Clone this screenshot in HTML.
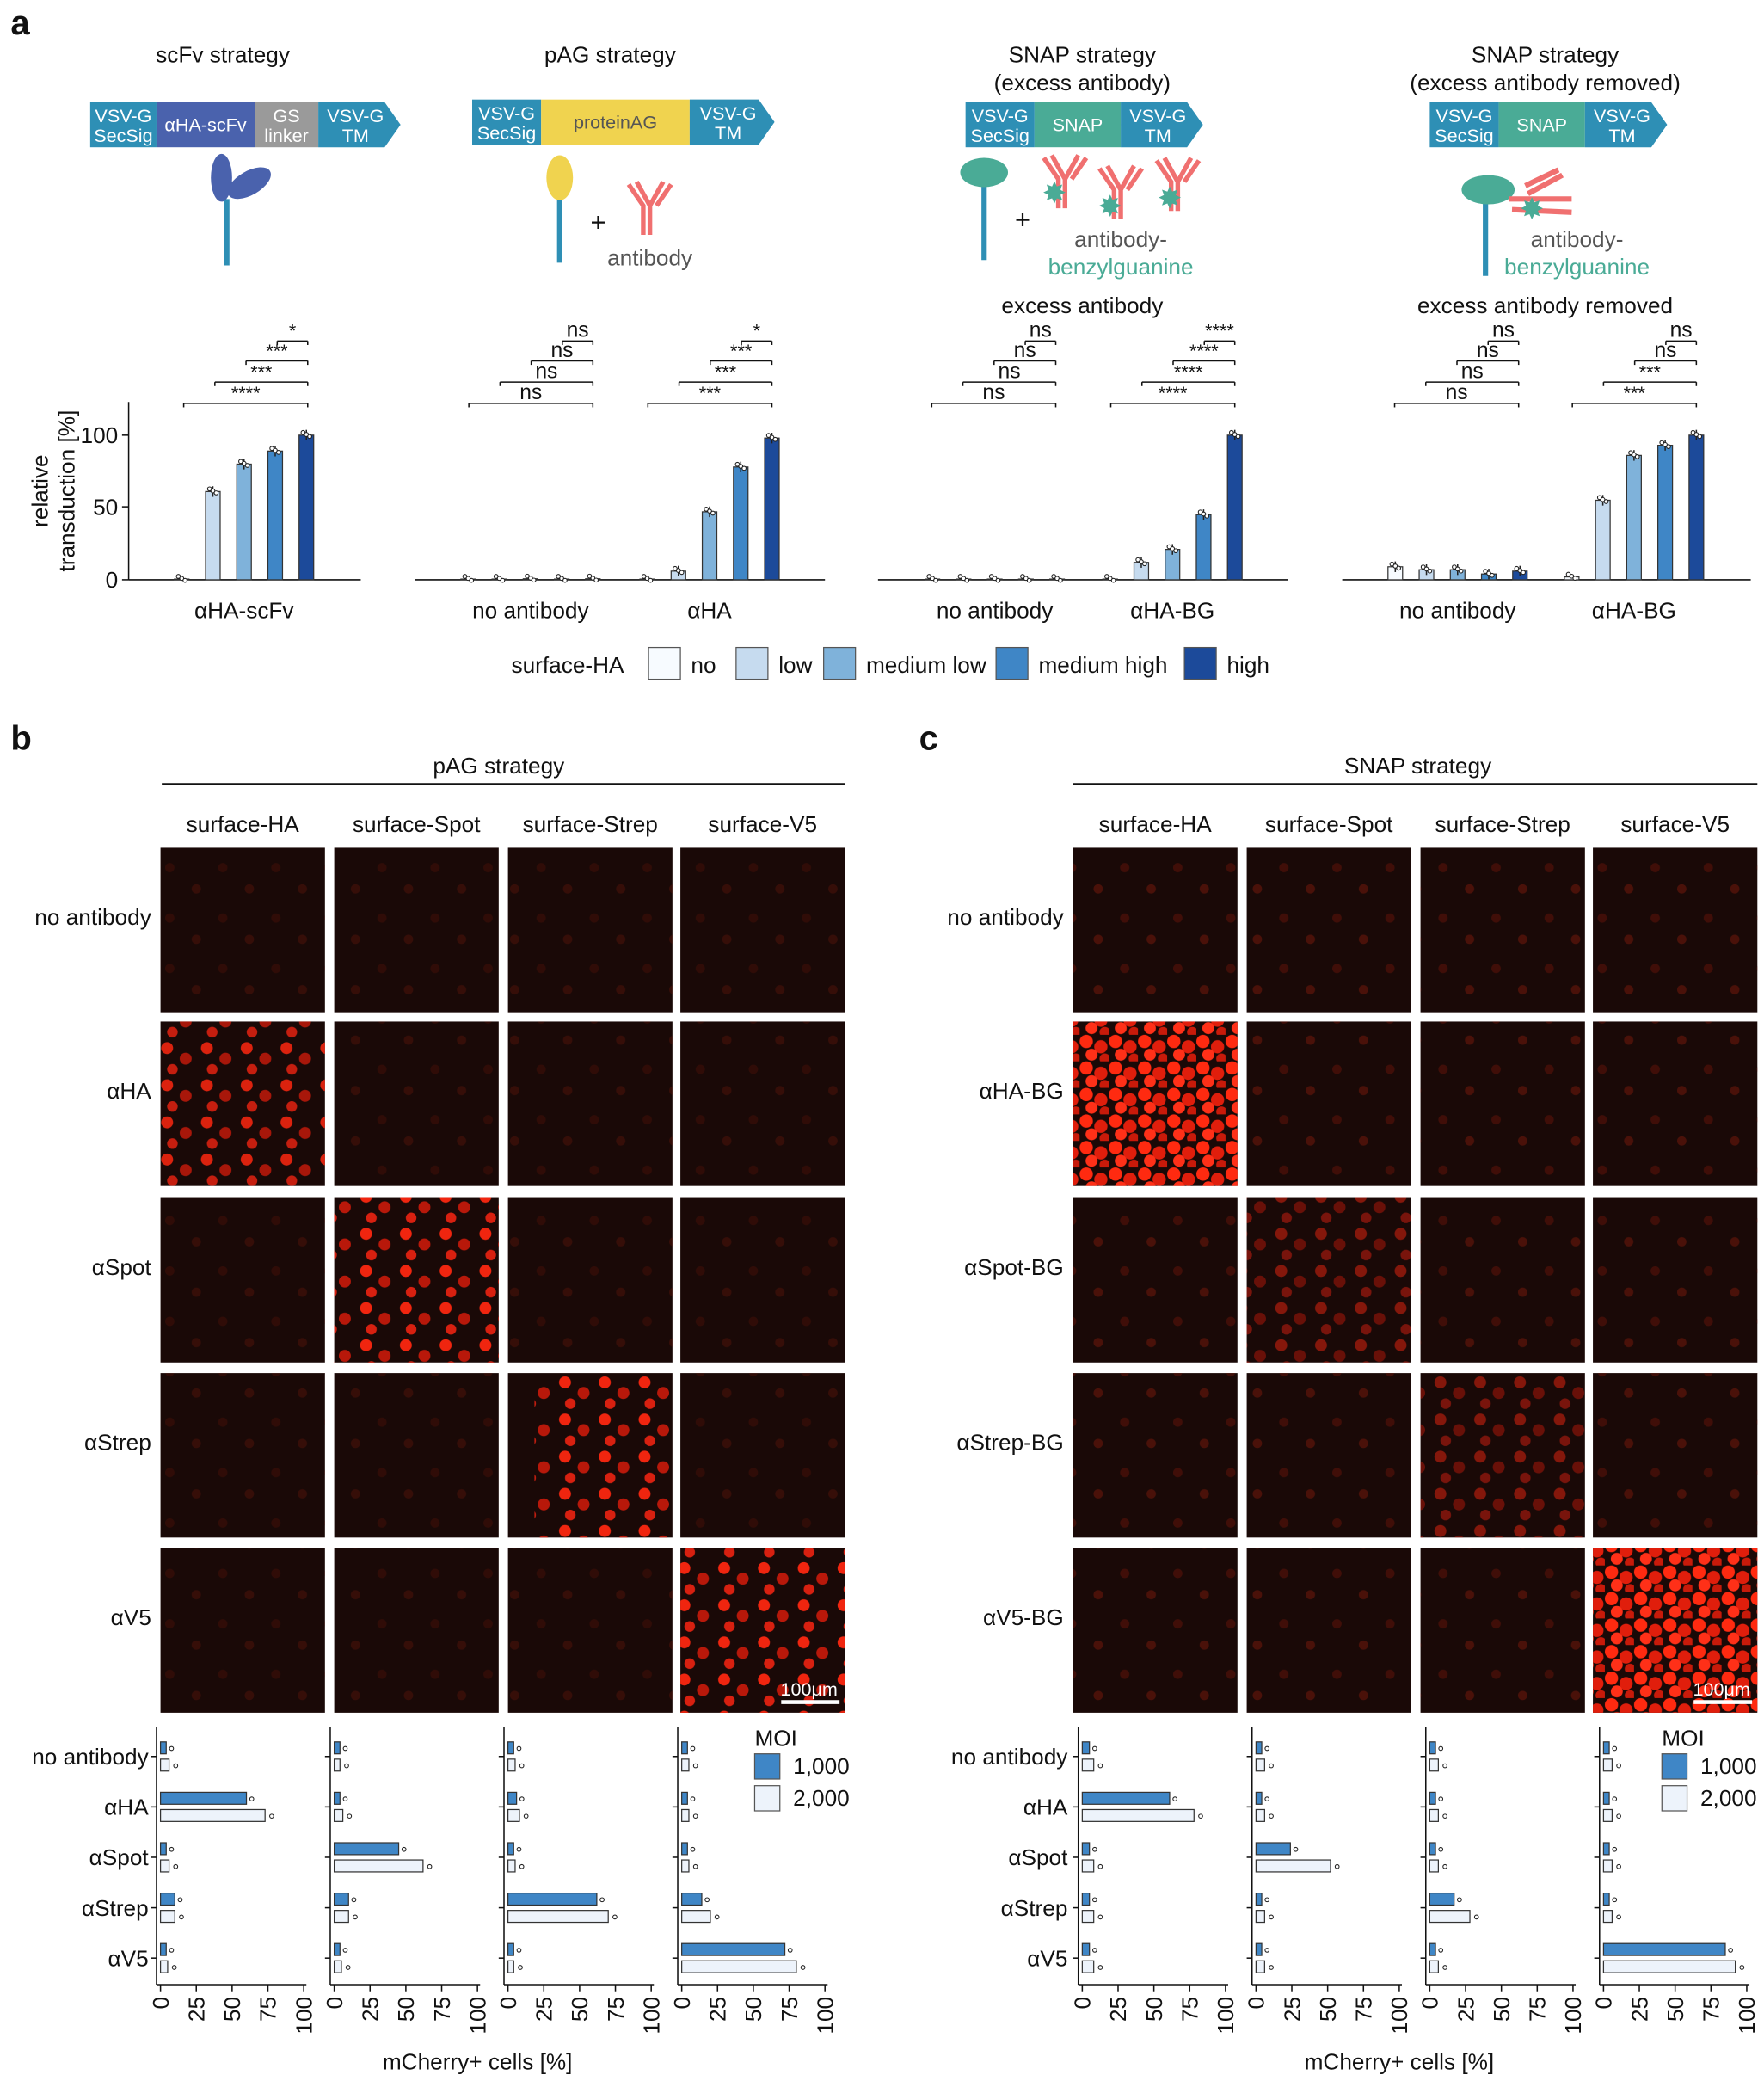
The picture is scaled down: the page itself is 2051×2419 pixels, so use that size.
<!DOCTYPE html>
<html><head><meta charset="utf-8"><style>
html,body{margin:0;padding:0;background:#fff}
svg{display:block;font-family:"Liberation Sans",sans-serif}
</style></head><body>
<svg id="s" width="2051" height="2419" viewBox="0 0 1330 1568.6" xmlns="http://www.w3.org/2000/svg">
<defs>
<pattern id="dense" width="22" height="20" patternUnits="userSpaceOnUse">
<circle cx="5" cy="5" r="5" fill="#ff2a10"/><circle cx="16" cy="9" r="5" fill="#e01e0c"/><circle cx="9" cy="15" r="4.5" fill="#ff3018"/><circle cx="19" cy="18" r="4" fill="#c81a0a"/>
</pattern>
<pattern id="mid" width="30" height="28" patternUnits="userSpaceOnUse">
<circle cx="6" cy="6" r="4.5" fill="#f0250f"/><circle cx="20" cy="14" r="4.5" fill="#b8180a"/><circle cx="10" cy="22" r="4" fill="#d82010"/>
</pattern>
<pattern id="dim" width="40" height="38" patternUnits="userSpaceOnUse">
<circle cx="8" cy="8" r="3.5" fill="#5a1208"/><circle cx="28" cy="24" r="3.5" fill="#6a160a"/>
</pattern>
</defs>
<g id="g"></g>
</svg>
<script>
const g=document.getElementById('g');let h='';
function T(x,y,t,o){o=o||{};h+=`<text x="${x}" y="${y}" font-size="${o.s||17}" text-anchor="${o.a||'middle'}" fill="${o.f||'#111'}" ${o.w?'font-weight="bold"':''} ${o.tr?`transform="${o.tr}"`:''}>${t}</text>`;}
function R(x,y,w,hh,f,st){h+=`<rect x="${x}" y="${y}" width="${w}" height="${hh}" fill="${f}" ${st?`stroke="${st}" stroke-width="0.8"`:''}/>`;}
function L(x1,y1,x2,y2,c,w){h+=`<line x1="${x1}" y1="${y1}" x2="${x2}" y2="${y2}" stroke="${c||'#111'}" stroke-width="${w||1}"/>`;}
T(8,26,'a',{s:26,w:1,a:'start'});T(8,565,'b',{s:26,w:1,a:'start'});T(693,565,'c',{s:26,w:1,a:'start'});
T(168,47,'scFv strategy');T(460,47,'pAG strategy');T(816,47,'SNAP strategy');T(816,68,'(excess antibody)');T(1165,47,'SNAP strategy');T(1165,68,'(excess antibody removed)');
const TE='#2e8fb5';
function seg(x,w,y,f,t1,t2,tc){R(x,y,w,34,f);if(t2){T(x+w/2,y+15,t1,{s:14,f:tc||'#fff'});T(x+w/2,y+30,t2,{s:14,f:tc||'#fff'});}else T(x+w/2,y+22,t1,{s:14,f:tc||'#fff'});}
function arrow(x,w,y){h+=`<polygon points="${x},${y} ${x+w},${y} ${x+w+12},${y+17} ${x+w},${y+34} ${x},${y+34}" fill="${TE}"/>`;T(x+w/2+3,y+15,'VSV-G',{s:14,f:'#fff'});T(x+w/2+3,y+30,'TM',{s:14,f:'#fff'});}
seg(68,50,77,TE,'VSV-G','SecSig');seg(118,74,77,'#4a62ad','αHA-scFv');seg(192,48,77,'#9a9a9a','GS','linker');arrow(240,50,77);
seg(356,52,75,TE,'VSV-G','SecSig');seg(408,112,75,'#f0d34f','proteinAG',null,'#555');arrow(520,52,75);
seg(728,52,77,TE,'VSV-G','SecSig');seg(780,65,77,'#4aab96','SNAP');arrow(845,50,77);
seg(1078,52,77,TE,'VSV-G','SecSig');seg(1130,65,77,'#4aab96','SNAP');arrow(1195,50,77);
L(171,150,171,200,TE,4);h+=`<ellipse cx="167" cy="134" rx="8" ry="18" fill="#4a62ad"/><ellipse cx="188" cy="138" rx="18" ry="9" transform="rotate(-30 188 138)" fill="#4a62ad"/>`;
L(422,150,422,198,TE,4);h+=`<ellipse cx="422" cy="134" rx="10" ry="17" fill="#f0d34f"/>`;T(451,174,'+',{s:20});
function ab(x,y,c){h+=`<path d="M${x},${y+40} V${y+18} L${x-10},${y} M${x},${y+18} L${x+10},${y} M${x-5},${y+40} V${y+18} L${x-16},${y+2} M${x+5},${y+18} L${x+16},${y+2}" stroke="${c}" stroke-width="3.5" fill="none"/>`;}
ab(490,137,'#f07070');T(490,200,'antibody',{f:'#555'});
L(742,135,742,196,TE,4);h+=`<ellipse cx="742" cy="130" rx="18" ry="11" fill="#4aab96"/>`;T(771,172,'+',{s:20});
ab(803,117,'#f07070');ab(845,125,'#f07070');ab(888,119,'#f07070');
[[795,153],[837,163],[882,157]].forEach(p=>h+=`<text x="${p[0]}" y="${p[1]}" font-size="22" fill="#4aab96" text-anchor="middle">✸</text>`);
T(845,186,'antibody-',{f:'#555'});T(845,207,'benzylguanine',{f:'#4aab96'});
L(1120,148,1120,208,TE,4);h+=`<ellipse cx="1122" cy="143" rx="20" ry="11" fill="#4aab96"/>`;
h+=`<path d="M1138,150 L1185,150 M1140,158 L1185,160 M1150,140 L1175,128 M1152,146 L1178,132" stroke="#f07070" stroke-width="4"/>`;h+=`<text x="1155" y="165" font-size="22" fill="#4aab96" text-anchor="middle">✸</text>`;
T(1189,186,'antibody-',{f:'#555'});T(1189,207,'benzylguanine',{f:'#4aab96'});
T(816,236,'excess antibody');T(1165,236,'excess antibody removed');
const C=['#f7fbff','#c6dbef','#7fb2da','#3f86c6','#1c4a9a'];const B=437,K=1.09;
L(97,303,97,437);L(97,437,272,437);L(313,437,622,437);L(662,437,971,437);L(1012,437,1320,437);
[[0,437],[50,382],[100,328]].forEach(v=>{L(92,v[1],97,v[1]);T(89,v[1]+6,v[0],{a:'end'});});
T(36,370,'relative',{tr:'rotate(-90 36 370)'});T(56,370,'transduction [%]',{tr:'rotate(-90 56 370)'});
function grp(cx,vals){vals.forEach((v,i)=>{const x=cx+(i-2)*23.5-5.5;const hh=v*K;R(x,B-hh,11,hh,C[i],'#333');if(v>3){L(x+5.5,B-hh-4,x+5.5,B-hh+4,'#222');}for(let k=0;k<3;k++)h+=`<circle cx="${x+3+k*2.5}" cy="${B-hh-2+k*1.5}" r="1.5" fill="#fff" stroke="#222" stroke-width="0.7"/>`;});}
grp(184,[0.5,61,80,89,100]);T(184,466,'αHA-scFv');
grp(400,[0.5,0.5,0.7,0.5,0.7]);grp(535,[0.5,6,47,78,98]);T(400,466,'no antibody');T(535,466,'αHA');
grp(750,[0.5,0.5,0.5,0.5,0.5]);grp(884,[0.5,12,21,45,100]);T(750,466,'no antibody');T(884,466,'αHA-BG');
grp(1099,[9,7,7,4,6]);grp(1232,[2,55,86,93,100]);T(1099,466,'no antibody');T(1232,466,'αHA-BG');
function br(x1,x2,y,t){L(x1,y,x2,y);L(x2,y,x2,y+3);L(x1,y,x1,y+3);T(x1+(x2-x1)/2,y-3,t,{s:t=='ns'?16:14});}
function brs(xl,xr,labs){const ys=[257,272,288,304];labs.forEach((t,i)=>br(xr-23-i*23.5,xr,ys[i],t));}
brs(0,232,['*','***','***','****']);
brs(0,447,['ns','ns','ns','ns']);brs(0,582,['*','***','***','***']);
brs(0,796,['ns','ns','ns','ns']);brs(0,931,['****','****','****','****']);
brs(0,1145,['ns','ns','ns','ns']);brs(0,1279,['ns','ns','***','***']);
T(428,507,'surface-HA');const lx=[489,555,621,751,893],lt=['no','low','medium low','medium high','high'];
lx.forEach((x,i)=>{R(x,488,24,24,C[i],'#555');T(x+32,507,lt[i],{a:'start'});});
T(376,583,'pAG strategy');L(122,591,637,591,'#111',1.5);T(1069,583,'SNAP strategy');L(809,591,1325,591,'#111',1.5);
const hdr=['surface-HA','surface-Spot','surface-Strep','surface-V5'];
const cb=[121,252,383,513],cc=[809,940,1071,1201],ry=[639,770,903,1035,1167];
hdr.forEach((t,i)=>{T(cb[i]+62,627,t);T(cc[i]+62,627,t);});
const rb=['no antibody','αHA','αSpot','αStrep','αV5'],rc=['no antibody','αHA-BG','αSpot-BG','αStrep-BG','αV5-BG'];
ry.forEach((y,i)=>{T(114,y+58,rb[i],{a:'end'});T(802,y+58,rc[i],{a:'end'});});
function img(x,y,p,op,clip){R(x,y,124,124,'#1a0907');if(p){if(clip)h+=`<rect x="${x+clip[0]}" y="${y+clip[1]}" width="${clip[2]}" height="${clip[3]}" fill="url(#${p})" opacity="${op}"/>`;else h+=`<rect x="${x}" y="${y}" width="124" height="124" fill="url(#${p})" opacity="${op}"/>`;}}
for(let r=0;r<5;r++)for(let c=0;c<4;c++){
 let p='dim',o=0.35,cl=null;
 if(r==1&&c==0){p='mid';o=0.9;}if(r==2&&c==1){p='mid';o=1;}if(r==3&&c==2){p='mid';o=1;cl=[20,0,104,124];}if(r==4&&c==3){p='mid';o=1;}
 img(cb[c],ry[r],p,o,cl);
 let q='dim',o2=0.6;if(r==1&&c==0){q='dense';o2=1;}if(r==4&&c==3){q='dense';o2=1;}if((r==2&&c==1)||(r==3&&c==2)){q='mid';o2=0.5;}
 img(cc[c],ry[r],q,o2);
}
[[cb[3],'100μm'],[cc[3],'100μm']].forEach(a=>{T(a[0]+97,1278,a[1],{s:14,f:'#fff'});L(a[0]+76,1283,a[0]+120,1283,'#fff',3);});
const vb=[[[4,6],[60,73],[4,6],[10,10],[4,5]],[[4,4],[4,6],[45,62],[10,10],[4,5]],[[4,5],[6,8],[4,5],[62,70],[4,4]],[[4,5],[4,5],[4,5],[14,20],[72,80]]];
const vc=[[[5,8],[61,78],[5,8],[5,8],[5,8]],[[4,6],[4,6],[24,52],[4,6],[4,6]],[[4,6],[4,6],[4,6],[17,28],[4,6]],[[4,6],[4,6],[4,6],[4,6],[85,92]]];
const by=[1324,1362,1400,1438,1476];
function bars(xs,vv,labx){const rl=['no antibody','αHA','αSpot','αStrep','αV5'];by.forEach((y,i)=>T(labx,y+6,rl[i],{a:'end'}));
 xs.forEach((x0,c)=>{L(x0-3,1302,x0-3,1496);by.forEach(y=>L(x0-7,y,x0-3,y));L(x0-3,1496,x0+110,1496);
  [0,25,50,75,100].forEach(t=>{const x=x0+t*1.08;L(x,1496,x,1501);T(x+6,1505,t,{a:'end',tr:`rotate(-90 ${x+6} 1505)`});});
  vv[c].forEach((v,i)=>{const y=by[i];R(x0,y-11,v[0]*1.08,9,'#3f86c6','#333');R(x0,y+2,v[1]*1.08,9,'#edf3fb','#333');
   h+=`<circle cx="${x0+v[0]*1.08+4}" cy="${y-6}" r="1.5" fill="#fff" stroke="#222" stroke-width="0.7"/><circle cx="${x0+v[1]*1.08+5}" cy="${y+7}" r="1.5" fill="#fff" stroke="#222" stroke-width="0.7"/>`;});});}
bars([121,252,383,514],vb,112);bars([816,947,1078,1209],vc,805);
T(360,1560,'mCherry+ cells [%]');T(1055,1560,'mCherry+ cells [%]');
[[569],[1253]].forEach(a=>{const x=a[0];T(x,1316,'MOI',{a:'start'});R(x,1322,19,19,'#3f86c6','#555');T(x+29,1337,'1,000',{a:'start'});R(x,1346,19,19,'#edf3fb','#555');T(x+29,1361,'2,000',{a:'start'});});
g.innerHTML=h;
</script>
</body></html>
